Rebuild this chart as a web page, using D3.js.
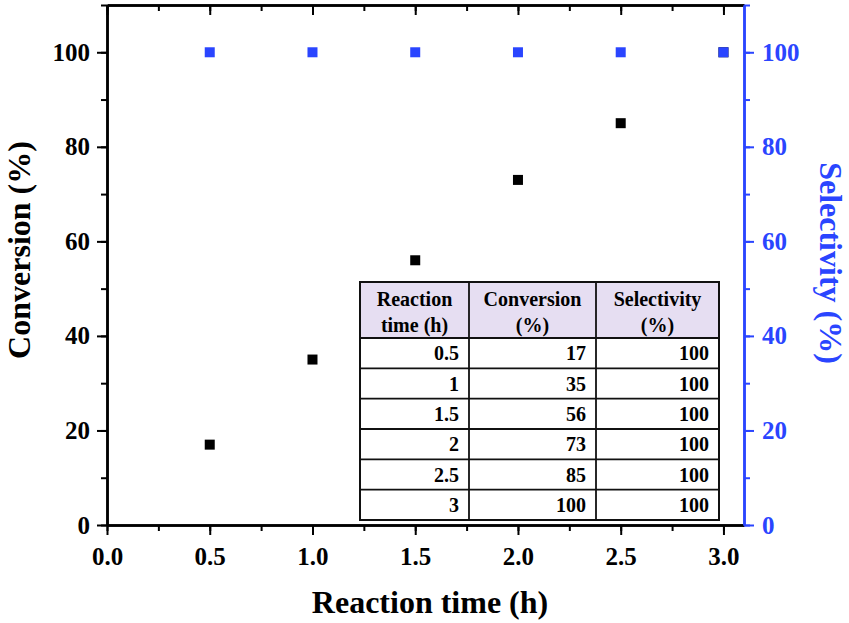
<!DOCTYPE html>
<html>
<head>
  <meta charset="utf-8">
  <script src="https://cdn.jsdelivr.net/npm/d3@7"></script>
  <style>
    body { margin: 0; background: #fff; }
    svg text { font-family: "Liberation Serif", "Times New Roman", serif; font-weight: bold; }
  </style>
</head>
<body>
<script>
  // data
  var times = [0.5, 1, 1.5, 2, 2.5, 3];
  var timeLabels = ["0.5", "1", "1.5", "2", "2.5", "3"];
  var conversion = [17, 35, 56, 73, 85, 100];
  var selectivity = [100, 100, 100, 100, 100, 100];
  var xTicks = [0, 0.5, 1, 1.5, 2, 2.5, 3];
  var yTicks = [0, 20, 40, 60, 80, 100];
  var tableHead = [["Reaction", "time (h)"], ["Conversion", "(%)"], ["Selectivity", "(%)"]];

  var W = 849, H = 623;
  var blue = "#2a45ff";
  var pL = 107, pR = 744, pT = 5, pB = 525;

  var svg = d3.select("body").append("svg")
    .attr("width", W).attr("height", H);

  var x = d3.scaleLinear().domain([0, 3.1]).range([pL, pR]);
  var y = d3.scaleLinear().domain([0, 110]).range([pB, pT]);

  var minorX = d3.range(0, 3.01, 0.25);
  var minorY = d3.range(0, 110.1, 10);

  function style(g, color) {
    g.selectAll("path.domain").attr("stroke", color).attr("stroke-width", 2.5);
    g.selectAll("line").attr("stroke", color).attr("stroke-width", 2);
    g.selectAll("text").attr("fill", color);
  }

  // bottom axis
  var gb = svg.append("g").attr("transform", "translate(0," + pB + ")")
    .call(d3.axisBottom(x).tickValues(minorX).tickSize(6).tickSizeOuter(0).tickFormat(""));
  style(gb, "#000");
  var gb2 = svg.append("g").attr("transform", "translate(0," + pB + ")")
    .call(d3.axisBottom(x).tickValues(xTicks).tickSize(10).tickSizeOuter(0).tickPadding(12).tickFormat(d3.format(".1f")));
  gb2.selectAll("text").style("font-size", "25px");
  style(gb2, "#000");

  // top axis (ticks inward)
  var gt = svg.append("g").attr("transform", "translate(0," + pT + ")")
    .call(d3.axisTop(x).tickValues(minorX).tickSize(-6).tickSizeOuter(0).tickFormat(""));
  style(gt, "#000");
  var gt2 = svg.append("g").attr("transform", "translate(0," + pT + ")")
    .call(d3.axisTop(x).tickValues(xTicks).tickSize(-10).tickSizeOuter(0).tickFormat(""));
  style(gt2, "#000");

  // left axis
  var gl = svg.append("g").attr("transform", "translate(" + pL + ",0)")
    .call(d3.axisLeft(y).tickValues(minorY).tickSize(6).tickSizeOuter(0).tickFormat(""));
  style(gl, "#000");
  var gl2 = svg.append("g").attr("transform", "translate(" + pL + ",0)")
    .call(d3.axisLeft(y).tickValues(yTicks).tickSize(10).tickSizeOuter(0).tickPadding(7));
  gl2.selectAll("text").style("font-size", "25px");
  style(gl2, "#000");

  // right axis (blue)
  var gr = svg.append("g").attr("transform", "translate(" + pR + ",0)")
    .call(d3.axisRight(y).tickValues(minorY).tickSize(6).tickSizeOuter(0).tickFormat(""));
  style(gr, blue);
  var gr2 = svg.append("g").attr("transform", "translate(" + pR + ",0)")
    .call(d3.axisRight(y).tickValues(yTicks).tickSize(10).tickSizeOuter(0).tickPadding(8));
  gr2.selectAll("text").style("font-size", "25px");
  style(gr2, blue);

  // axis titles
  svg.append("text")
    .attr("x", 430).attr("y", 613)
    .attr("text-anchor", "middle").style("font-size", "32px")
    .text("Reaction time (h)");
  svg.append("text")
    .attr("transform", "translate(30,250) rotate(-90)")
    .attr("text-anchor", "middle").style("font-size", "32px")
    .text("Conversion (%)");
  svg.append("text")
    .attr("transform", "translate(820,263) rotate(90)")
    .attr("text-anchor", "middle").style("font-size", "32px")
    .attr("fill", blue)
    .text("Selectivity (%)");

  // inset table
  var cols = [360, 469, 596, 719];
  var tTop = 282, headBot = 338, tBot = 520;
  var rowH = (tBot - headBot) / times.length;
  var tbl = svg.append("g");
  tbl.append("rect").attr("x", cols[0]).attr("y", tTop)
    .attr("width", cols[3] - cols[0]).attr("height", headBot - tTop)
    .attr("fill", "#e6def2");
  tbl.append("rect").attr("x", cols[0]).attr("y", headBot)
    .attr("width", cols[3] - cols[0]).attr("height", tBot - headBot)
    .attr("fill", "#fff");
  [headBot].concat(d3.range(1, times.length).map(function(i) { return headBot + i * rowH; }))
    .forEach(function(yy) {
      tbl.append("line").attr("x1", cols[0]).attr("x2", cols[3])
        .attr("y1", yy).attr("y2", yy).attr("stroke", "#111").attr("stroke-width", 1.8);
    });
  [cols[1], cols[2]].forEach(function(xx) {
    tbl.append("line").attr("x1", xx).attr("x2", xx)
      .attr("y1", tTop).attr("y2", tBot).attr("stroke", "#111").attr("stroke-width", 1.8);
  });
  tbl.append("rect").attr("x", cols[0]).attr("y", tTop)
    .attr("width", cols[3] - cols[0]).attr("height", tBot - tTop)
    .attr("fill", "none").attr("stroke", "#111").attr("stroke-width", 2);

  tableHead.forEach(function(h, i) {
    var cx = (cols[i] + cols[i + 1]) / 2;
    tbl.append("text").attr("x", cx).attr("y", 306).attr("text-anchor", "middle")
      .style("font-size", "20px").text(h[0]);
    tbl.append("text").attr("x", cx).attr("y", 332).attr("text-anchor", "middle")
      .style("font-size", "20px").text(h[1]);
  });
  times.forEach(function(t, i) {
    var by = headBot + (i + 1) * rowH - 8;
    [timeLabels[i], String(conversion[i]), String(selectivity[i])].forEach(function(v, j) {
      tbl.append("text").attr("x", cols[j + 1] - 10).attr("y", by)
        .attr("text-anchor", "end").style("font-size", "20px").text(v);
    });
  });

  // markers
  var s = 10;
  svg.append("g").selectAll("rect").data(times).join("rect")
    .attr("x", function(d) { return x(d) - s / 2; })
    .attr("y", function(d, i) { return y(conversion[i]) - s / 2; })
    .attr("width", s).attr("height", s).attr("fill", "#000");
  svg.append("g").selectAll("rect").data(times).join("rect")
    .attr("x", function(d) { return x(d) - s / 2; })
    .attr("y", function(d, i) { return y(selectivity[i]) - s / 2; })
    .attr("width", s).attr("height", s).attr("fill", blue);
</script>
</body>
</html>
